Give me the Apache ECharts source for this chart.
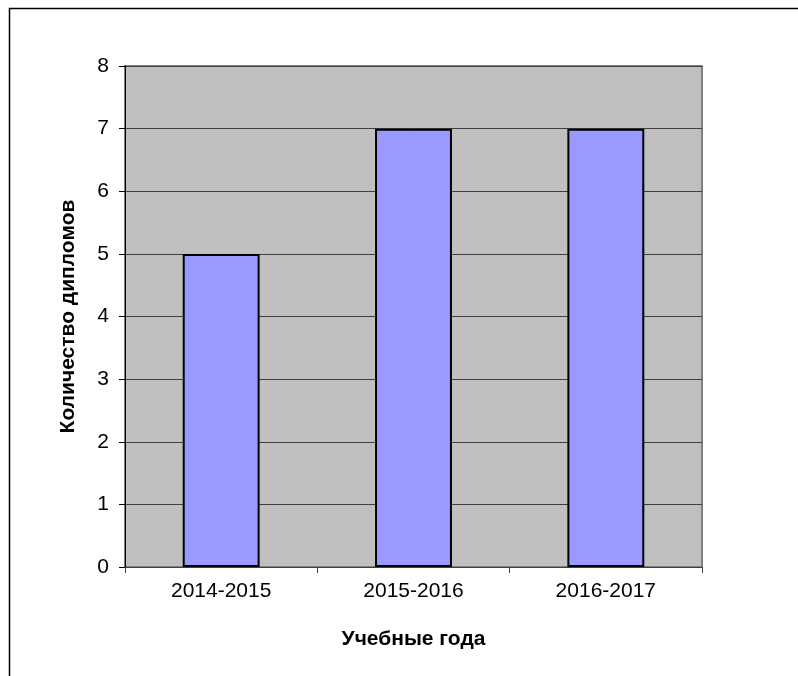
<!DOCTYPE html>
<html>
<head>
<meta charset="utf-8">
<script src="https://cdn.jsdelivr.net/npm/echarts@6/dist/echarts.min.js"></script>
<style>
html,body{margin:0;padding:0;background:#fff;}
#chart{width:798px;height:676px;}
</style>
</head>
<body>
<div id="chart"></div>
<script>
const categories = ['2014-2015', '2015-2016', '2016-2017'];
const diplomas = [5, 7, 7];
const yTitle = 'Количество дипломов';
const xTitle = 'Учебные года';

const chart = echarts.init(document.getElementById('chart'), null, {renderer: 'canvas'});
const font = 'Liberation Sans, Arial, sans-serif';
chart.setOption({
  animation: false,
  backgroundColor: '#ffffff',
  graphic: [{
    type: 'rect',
    shape: {x: 9.5, y: 8.5, width: 1000, height: 1000},
    style: {fill: 'none', stroke: '#000', lineWidth: 1.5},
    silent: true
  }],
  grid: {
    left: 125, top: 66, right: 96, bottom: 109,
    show: true, backgroundColor: '#C0C0C0', borderColor: '#808080', borderWidth: 2
  },
  xAxis: {
    type: 'category',
    data: categories,
    name: xTitle,
    nameLocation: 'middle',
    nameGap: 62,
    nameTextStyle: {fontFamily: font, fontSize: 21, fontWeight: 'bold', color: '#000'},
    axisLine: {show: true, lineStyle: {color: '#404040', width: 1}},
    axisTick: {show: true, length: 6, alignWithLabel: false, lineStyle: {color: '#404040'}},
    axisLabel: {fontFamily: font, fontSize: 21, color: '#000', margin: 14},
    splitLine: {show: false}
  },
  yAxis: {
    type: 'value',
    min: 0, max: 8, interval: 1,
    name: yTitle,
    nameLocation: 'middle',
    nameRotate: 90,
    nameGap: 46,
    nameTextStyle: {fontFamily: font, fontSize: 21, fontWeight: 'bold', color: '#000'},
    axisLine: {show: true, lineStyle: {color: '#000', width: 1}},
    axisTick: {show: true, length: 6, lineStyle: {color: '#000'}},
    axisLabel: {fontFamily: font, fontSize: 21, color: '#000', margin: 16},
    splitLine: {show: true, lineStyle: {color: '#404040', width: 1}}
  },
  series: [{
    type: 'bar',
    data: diplomas,
    barWidth: '40%',
    itemStyle: {color: '#9999FF', borderColor: '#000', borderWidth: 2}
  }]
});
</script>
</body>
</html>
